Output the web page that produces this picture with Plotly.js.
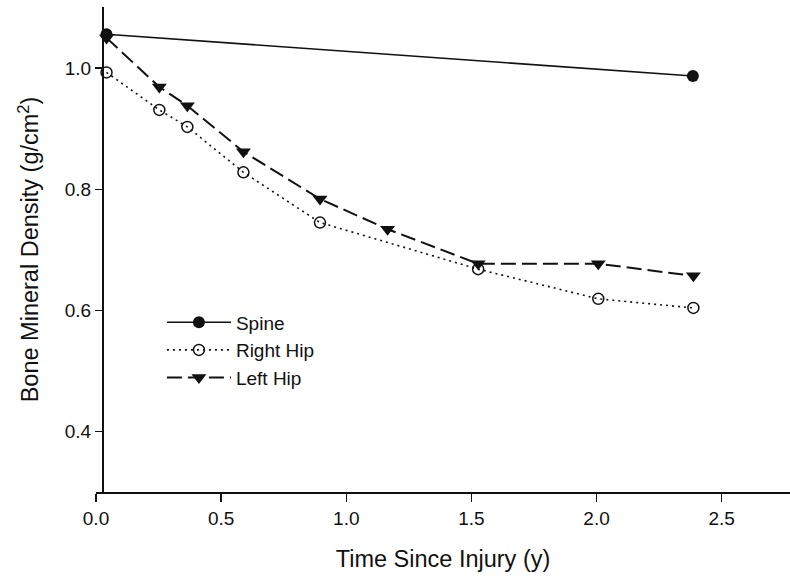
<!DOCTYPE html>
<html>
<head>
<meta charset="utf-8">
<script src="https://cdn.plot.ly/plotly-3.0.1.min.js"></script>
<style>
html,body{margin:0;padding:0;background:#fff;}
#chart{width:790px;height:580px;}
</style>
</head>
<body>
<div id="chart"></div>
<script>
// Data
var seriesNames = ["Spine", "Right Hip", "Left Hip"];
var spineX = [0.042, 2.385];
var spineY = [1.056, 0.987];
var rightHipX = [0.042, 0.253, 0.365, 0.589, 0.895, 1.527, 2.007, 2.387];
var rightHipY = [0.993, 0.931, 0.903, 0.828, 0.745, 0.668, 0.619, 0.604];
var leftHipX = [0.042, 0.253, 0.365, 0.589, 0.895, 1.165, 1.527, 2.007, 2.387];
var leftHipY = [1.050, 0.969, 0.938, 0.862, 0.784, 0.734, 0.677, 0.677, 0.657];
var xTicks = [0, 0.5, 1.0, 1.5, 2.0, 2.5];
var xTickText = ["0.0", "0.5", "1.0", "1.5", "2.0", "2.5"];
var yTicks = [0.4, 0.6, 0.8, 1.0];
var yTickText = ["0.4", "0.6", "0.8", "1.0"];

var ink = "#111";
var fontFam = "Liberation Sans, Arial, Helvetica, sans-serif";

var traces = [
  {
    x: spineX, y: spineY, name: seriesNames[0], type: "scatter", mode: "lines+markers",
    line: {color: ink, width: 1.6},
    marker: {symbol: "circle", size: 12, color: ink}
  },
  {
    x: rightHipX, y: rightHipY, name: seriesNames[1], type: "scatter", mode: "lines+markers",
    line: {color: ink, width: 1.6, dash: "2px,4px"},
    marker: {symbol: "circle-open", size: 11, color: ink, line: {width: 1.5, color: ink}}
  },
  {
    x: leftHipX, y: leftHipY, name: seriesNames[2], type: "scatter", mode: "lines+markers",
    line: {color: ink, width: 2, dash: "15px,6px"},
    marker: {symbol: "triangle-down", size: 13, color: ink}
  }
];

var layout = {
  width: 790, height: 580,
  margin: {l: 96, r: 0, t: 7, b: 88},
  paper_bgcolor: "#fff", plot_bgcolor: "#fff",
  font: {family: fontFam, color: ink, size: 19},
  showlegend: true,
  legend: {
    x: 0.095, y: 0.389, xanchor: "left", yanchor: "top",
    bgcolor: "rgba(0,0,0,0)", borderwidth: 0,
    font: {family: fontFam, size: 19, color: ink},
    itemwidth: 64, tracegroupgap: 0
  },
  xaxis: {
    range: [0, 2.773], showgrid: false, zeroline: false,
    showline: true, linecolor: ink, linewidth: 2,
    ticks: "outside", ticklen: 8, tickwidth: 1.5, tickcolor: ink,
    tickvals: xTicks, ticktext: xTickText,
    tickfont: {family: fontFam, size: 19, color: ink},
    title: {text: "Time Since Injury (y)", font: {family: fontFam, size: 23.5, color: ink}, standoff: 23}
  },
  yaxis: {
    range: [0.3, 1.101], showgrid: false, zeroline: false,
    anchor: "free", position: 0.01,
    showline: true, linecolor: ink, linewidth: 2,
    ticks: "outside", ticklen: 7, tickwidth: 1.5, tickcolor: ink,
    tickvals: yTicks, ticktext: yTickText,
    tickfont: {family: fontFam, size: 19, color: ink},
    title: {text: "Bone Mineral Density (g/cm<sup>2</sup>)", font: {family: fontFam, size: 23.5, color: ink}, standoff: 18}
  }
};

Plotly.newPlot("chart", traces, layout, {staticPlot: true, displayModeBar: false});
</script>
</body>
</html>
